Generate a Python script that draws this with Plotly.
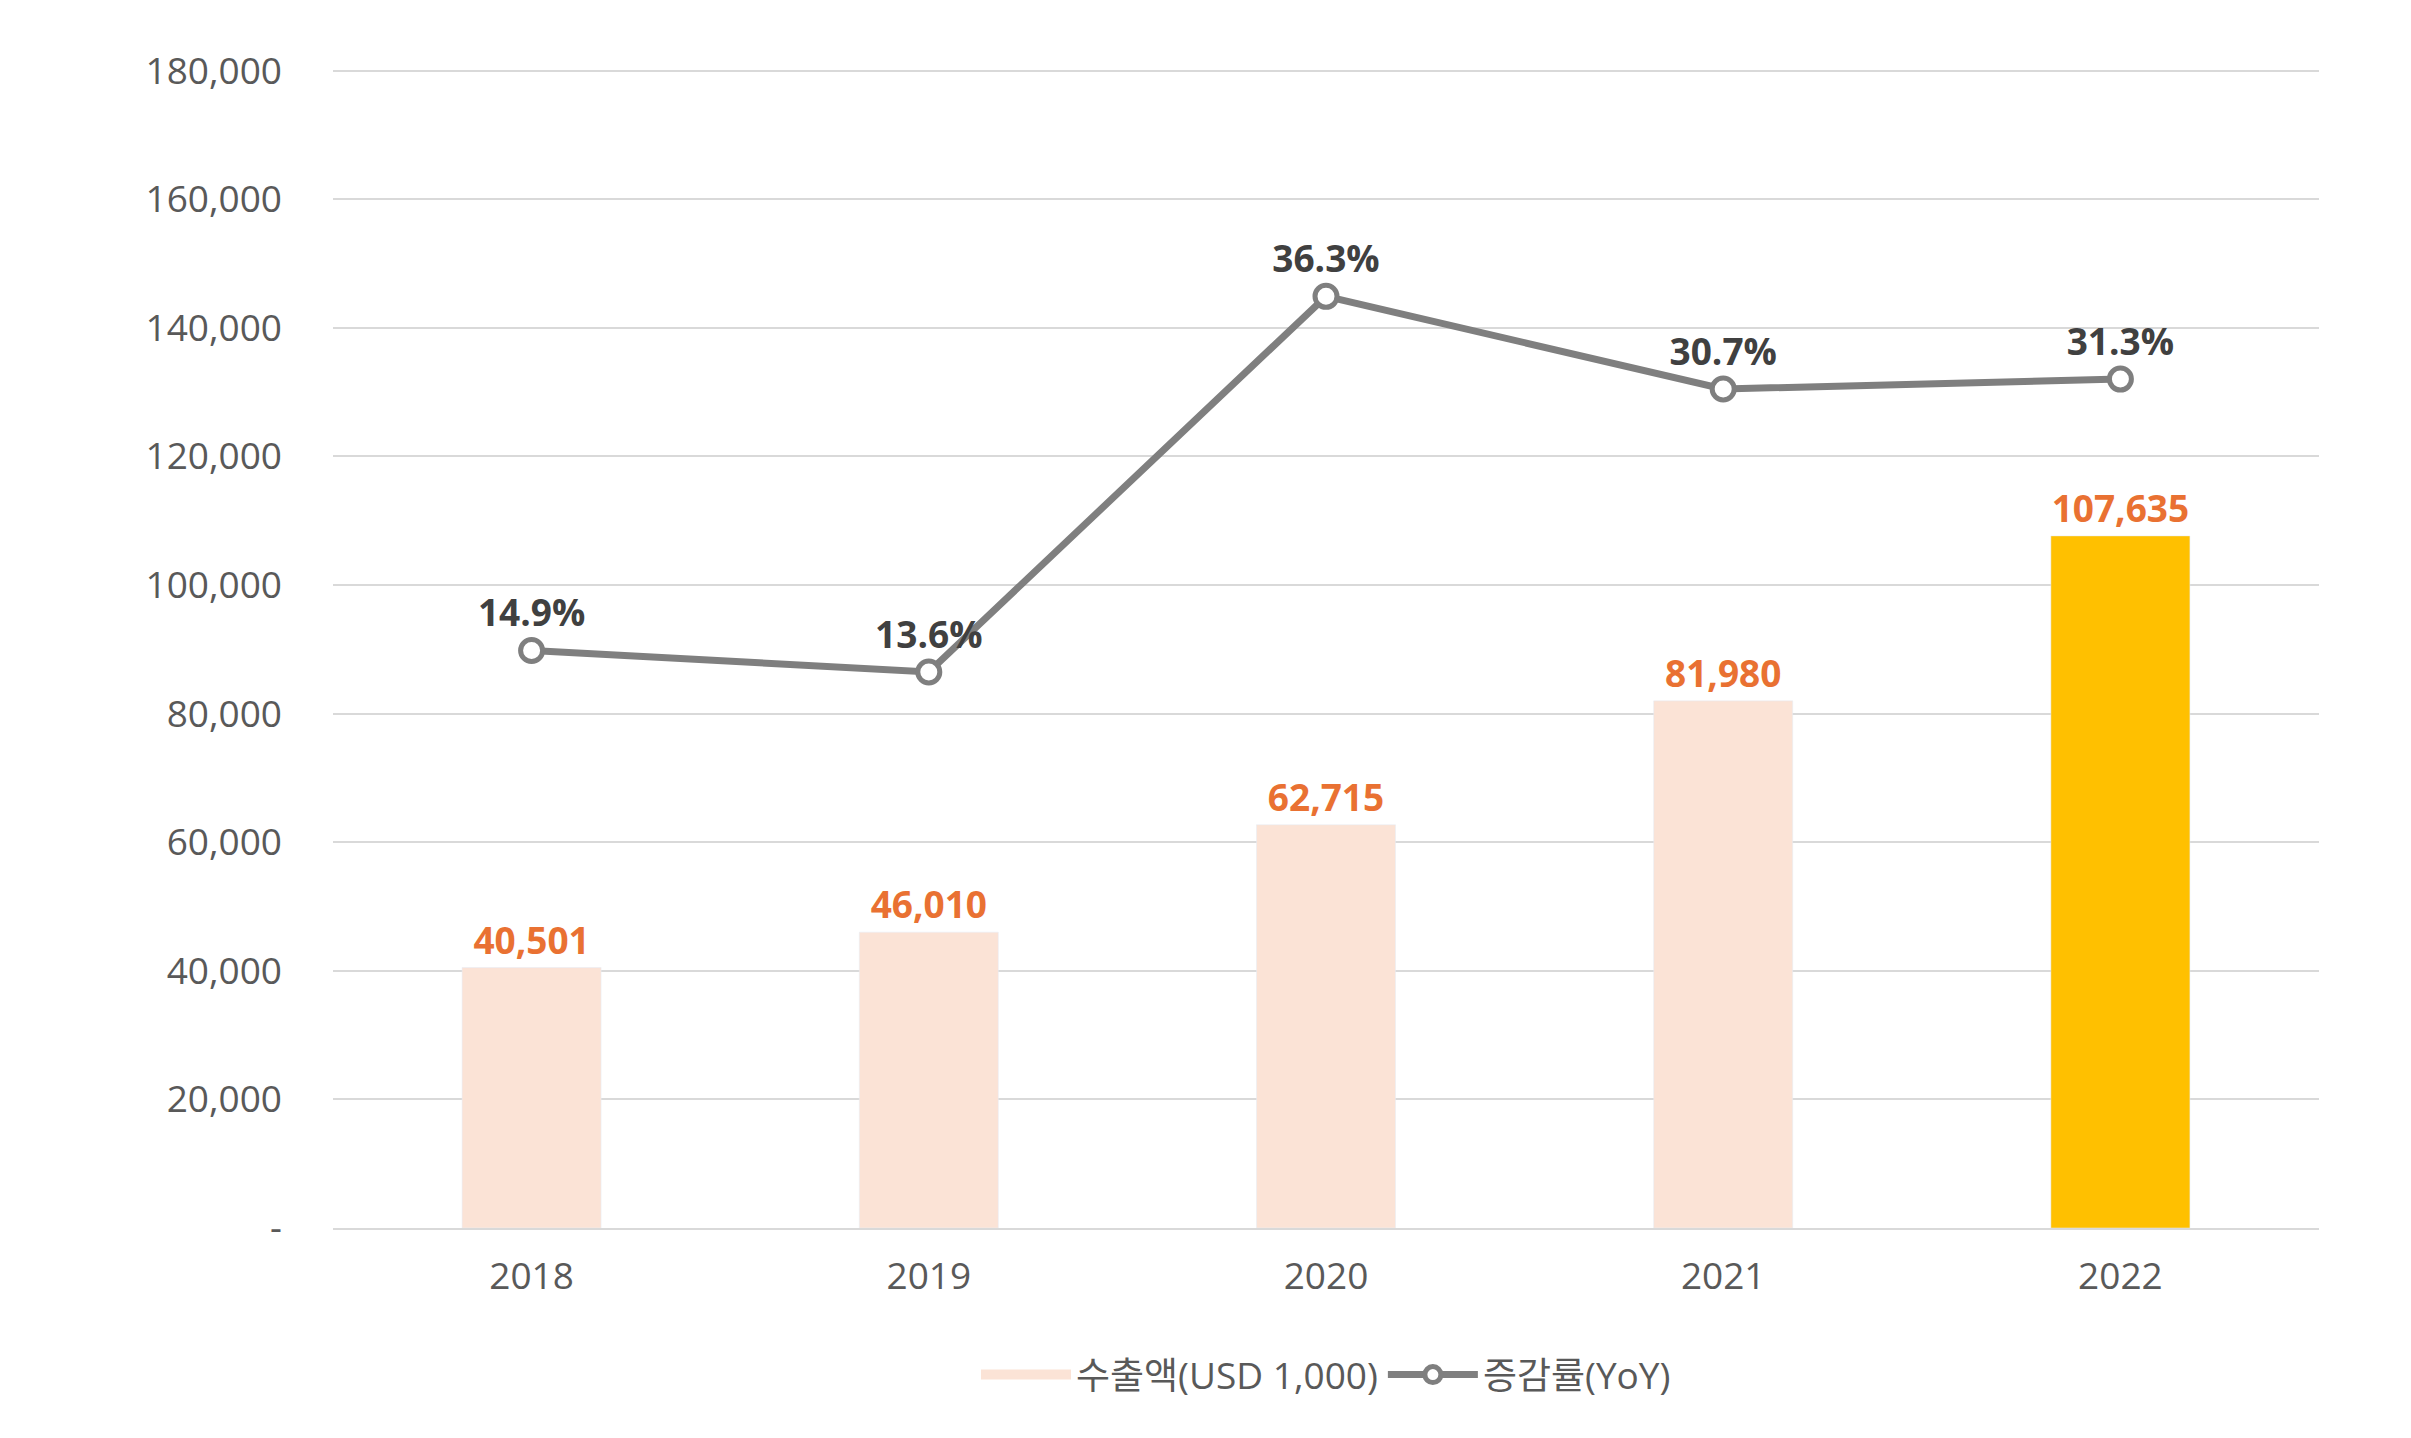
import plotly.graph_objects as go

years = ["2018", "2019", "2020", "2021", "2022"]
exports = [40501, 46010, 62715, 81980, 107635]
growth = [14.9, 13.6, 36.3, 30.7, 31.3]
bar_colors = ["#FBE3D6", "#FBE3D6", "#FBE3D6", "#FBE3D6", "#FFC000"]
ytick_vals = [0, 20000, 40000, 60000, 80000, 100000, 120000, 140000, 160000, 180000]
ytick_text = ["-"] + [f"{v:,}" for v in ytick_vals[1:]]

font = "Open Sans, Noto Sans CJK KR"
fig = go.Figure()
fig.add_trace(go.Bar(
    x=years, y=exports, name="수출액(USD 1,000)", marker_color=bar_colors,
    width=0.35, text=[f"<b>{v:,}</b>" for v in exports], textposition="outside",
    textfont=dict(color="#E97132", size=37, family=font), cliponaxis=False,
    showlegend=False,
))
fig.add_trace(go.Scatter(
    x=[None], y=[None], name="수출액(USD 1,000)", mode="lines",
    line=dict(color="#FBE3D6", width=24),
))
fig.add_trace(go.Scatter(
    x=years, y=growth, name="증감률(YoY)", yaxis="y2", mode="lines+markers+text",
    line=dict(color="#7F7F7F", width=7),
    marker=dict(size=22, color="white", line=dict(color="#7F7F7F", width=5)),
    text=[f"<b>{v}%</b>" for v in growth], textposition="top center",
    textfont=dict(color="#404040", size=37, family=font), cliponaxis=False,
))
fig.update_layout(
    width=2411, height=1438, plot_bgcolor="white", paper_bgcolor="white",
    margin=dict(l=325, r=100, t=60, b=218),
    font=dict(family=font, color="#595959", size=37),
    bargap=0.65,
    xaxis=dict(showgrid=False, showline=True, linecolor="#D9D9D9", linewidth=2, ticks="",
               tickfont=dict(size=37), ticklabelstandoff=15),
    yaxis=dict(range=[0, 180400], tickvals=ytick_vals, ticktext=ytick_text,
               gridcolor="#D9D9D9", gridwidth=2, zeroline=False, tickfont=dict(size=37),
               ticklabelstandoff=50),
    yaxis2=dict(overlaying="y", range=[-20, 50.1], visible=False),
    legend=dict(orientation="h", x=0.5, xanchor="center", y=-0.1, yanchor="top",
                font=dict(size=37), itemwidth=90),
)
fig.write_html("out.html")
